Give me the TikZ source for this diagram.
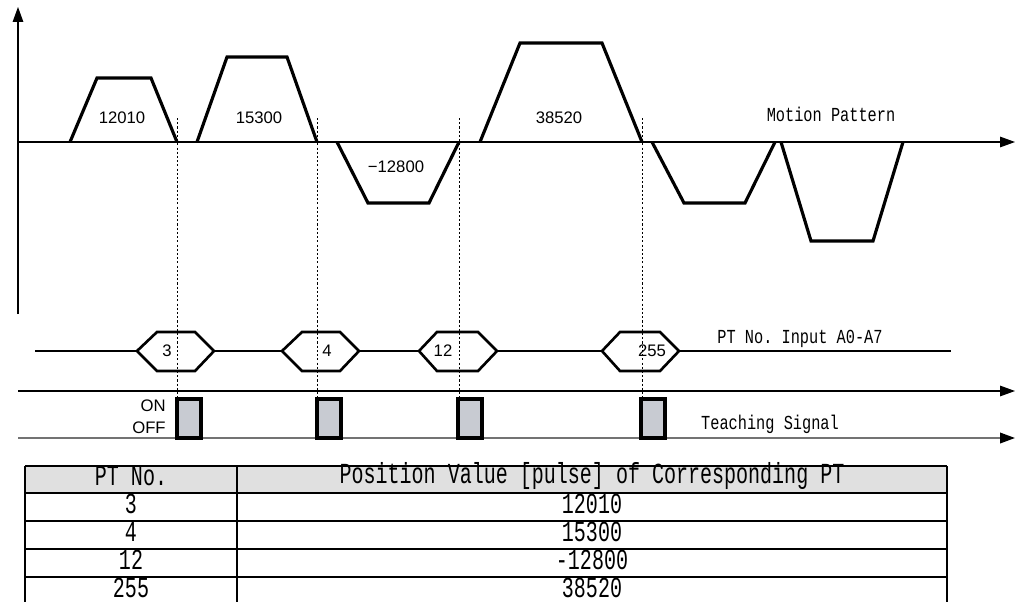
\documentclass[tikz,border=0pt]{standalone}
\usepackage{fontspec}
\setmainfont{Liberation Sans}
\setmonofont{Liberation Mono}
\usepackage{graphicx}
\usepackage{tikz}
\usetikzlibrary{arrows.meta}
\definecolor{pulsegray}{RGB}{200,203,210}
\definecolor{headgray}{RGB}{224,224,224}
\newcommand{\tallcap}[1]{\scalebox{1}[1.3]{#1}}
\newcommand{\tallcell}[1]{\scalebox{1}[1.45]{#1}}

\begin{document}
\begin{tikzpicture}[x=0.02cm,y=-0.02cm,>={Triangle[length=8.5pt,width=6pt]},
  axis/.style={line width=0.6pt},
  motion/.style={line width=1.8pt},
  hexa/.style={line width=1.5pt,fill=white},
  guide/.style={line width=0.5pt,dash pattern=on 1.2pt off 1.2pt},
  pulse/.style={line width=1.9pt,draw=black,fill=pulsegray},
  grid/.style={line width=1.1pt},
  num/.style={font=\fontsize{9.5}{11}\selectfont,inner sep=0pt},
  caption/.style={font=\fontsize{8.7}{10}\selectfont\ttfamily,inner sep=0pt},
  cell/.style={font=\fontsize{11.4}{13}\selectfont\ttfamily,inner sep=0pt}]
  \useasboundingbox (0,0) rectangle (1017,602);

  % axes
  \coordinate (ybot) at (18,314);
  \coordinate (ytop) at (18,7);
  \coordinate (o) at (18,142);
  \coordinate (xend) at (1015,142);
  \draw[axis,->] (ybot) -- (ytop);
  \draw[axis,->] (o) -- (xend);

  % motion pattern
  \foreach \a/\b/\c/\d/\h in {70/97/151/177/78, 197/227/287/317/57, 337/368/429/459/203,
      480/520/602/642/43, 652/684/745/775/203, 781/811/873/903/241}
    \draw[motion] (\a,142) -- (\b,\h) -- (\c,\h) -- (\d,142);
  \node[num] (v1) at (122,118) {12010};
  \node[num] (v2) at (259,118) {15300};
  \node[num] (v3) at (396,167) {−12800};
  \node[num] (v4) at (559,118) {38520};
  \node[caption] (motion) at (831,114) {\tallcap{Motion Pattern}};

  % PT number input
  \coordinate (ptl) at (35,351);
  \coordinate (ptr) at (951,351);
  \draw[axis] (ptl) -- (ptr);
  \foreach \l/\tl/\tr/\r/\lx/\t in {137/157/195/214/167/3, 282/302/340/359/327/4,
      419/437/478/497/443/12, 602/620/660/679/652/255}{
    \draw[hexa] (\l,351) -- (\tl,332) -- (\tr,332) -- (\r,351) -- (\tr,371) -- (\tl,371) -- cycle;
    \node[num] (pt\t) at (\lx,351) {\t};
  }
  \node[caption] (ptin) at (800,339) {\tallcap{PT No. Input A0-A7}};

  % teaching signal
  \coordinate (s1l) at (18,391);
  \coordinate (s1r) at (1015,391);
  \coordinate (s2l) at (18,438);
  \coordinate (s2r) at (1015,438);
  \draw[axis,->] (s1l) -- (s1r);
  \draw[line width=1pt,black!55,-{Triangle[length=8.5pt,width=6pt,black]}] (s2l) -- (s2r);
  \foreach \x in {177,317,459,642}
    \draw[guide] (\x,118) -- (\x,399);
  \foreach \x in {177,317,458,641}
    \draw[pulse] (\x,438) rectangle ++(24,-39);
  \node[num,anchor=east] (on) at (166,406) {ON};
  \node[num,anchor=east] (off) at (166,428) {OFF};
  \node[caption] (teach) at (770,424) {\tallcap{Teaching Signal}};

  % table
  \fill[headgray] (25,466) rectangle (947,493);
  \foreach \y in {466,493,521,549,577}
    \draw[grid] (25,\y) -- (947,\y);
  \foreach \x in {25,237,947}
    \draw[grid] (\x,466) -- (\x,602);
  \node[cell] (hno) at (131,476) {\tallcell{PT No.}};
  \node[cell] (hval) at (592,476) {\tallcell{Position Value [pulse] of Corresponding PT}};
  \foreach \n/\v [count=\i] in {3/12010, 4/15300, 12/-12800, 255/38520}{
    \node[cell] (no\i) at (131,476+28*\i) {\tallcell{\n}};
    \node[cell] (val\i) at (592,476+28*\i) {\tallcell{\v}};
  }
\end{tikzpicture}
\end{document}
